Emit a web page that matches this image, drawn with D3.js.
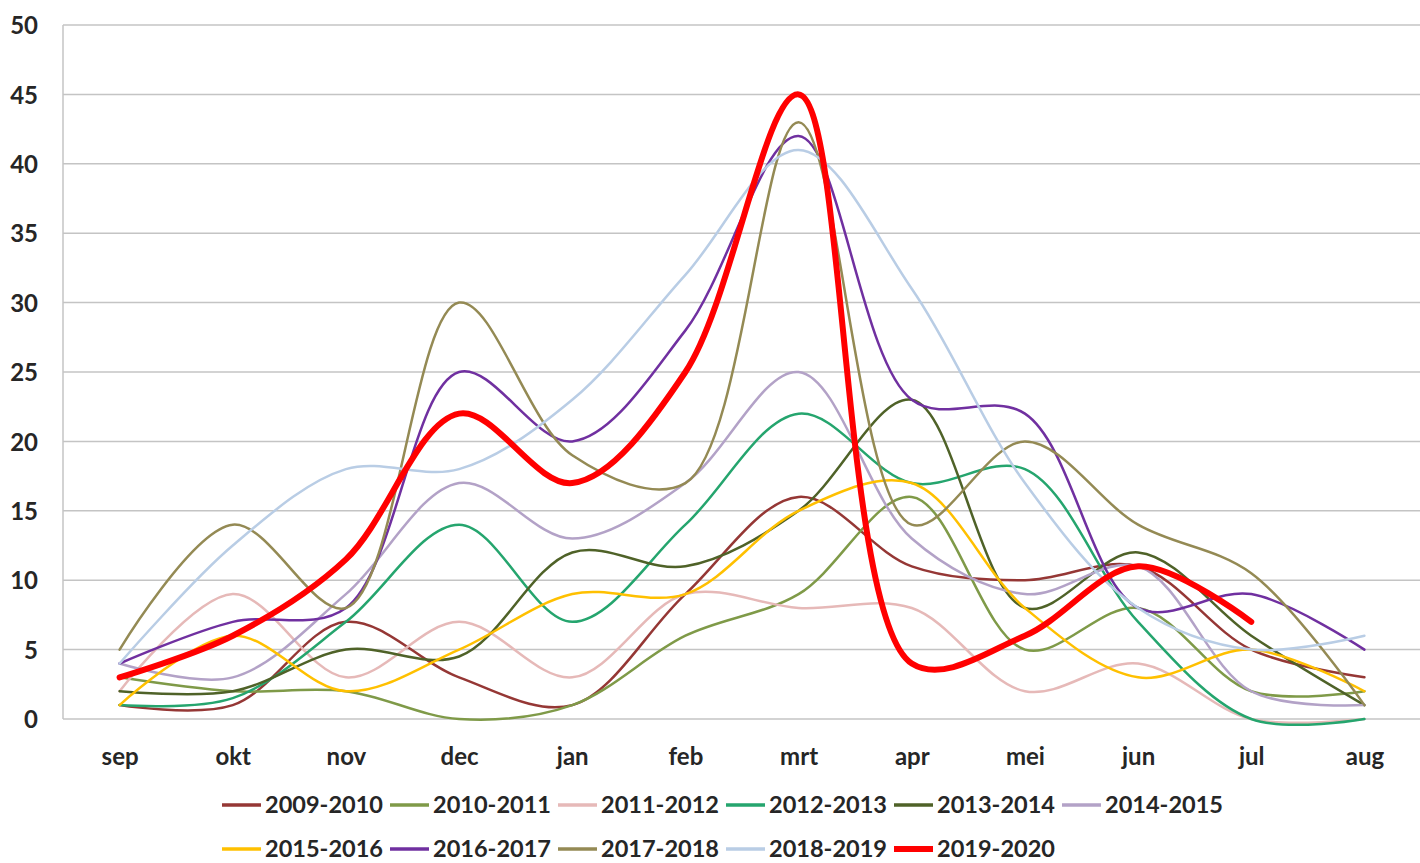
<!DOCTYPE html>
<html>
<head>
<meta charset="utf-8">
<script src="https://cdn.jsdelivr.net/npm/d3@7"></script>
<style>
  html, body { margin: 0; padding: 0; background: #fff; }
  svg { display: block; }
  text { font-family: Lato, "Open Sans", "DejaVu Sans", sans-serif; font-weight: 700; fill: #262626; }
</style>
</head>
<body>
<svg id="chart" width="1420" height="863"></svg>
<script>
// ---- data ----
const months = ["sep","okt","nov","dec","jan","feb","mrt","apr","mei","jun","jul","aug"];
const yTicks = [0, 5, 10, 15, 20, 25, 30, 35, 40, 45, 50];
const seriesNames = ["2009-2010","2010-2011","2011-2012","2012-2013","2013-2014","2014-2015",
                     "2015-2016","2016-2017","2017-2018","2018-2019","2019-2020"];
const s2009 = [1, 1, 7, 3, 1, 9, 16, 11, 10, 11, 5, 3];
const s2010 = [3, 2, 2, 0, 1, 6, 9, 16, 5, 8, 2, 2];
const s2011 = [2, 9, 3, 7, 3, 9, 8, 8, 2, 4, 0, 0];
const s2012 = [1, 1.5, 7, 14, 7, 14, 22, 17, 18, 7, 0, 0];
const s2013 = [2, 2, 5, 4.5, 12, 11, 15, 23, 8, 12, 6, 1];
const s2014 = [4, 3, 9, 17, 13, 17, 25, 13, 9, 11, 2, 1];
const s2015 = [1, 6, 2, 5, 9, 9, 15, 17, 8, 3, 5, 2];
const s2016 = [4, 7, 8, 25, 20, 28, 42, 23, 22, 8, 9, 5];
const s2017 = [5, 14, 8, 30, 19, 17, 43, 14, 20, 14, 10.5, 1];
const s2018 = [4, 12.5, 18, 18, 23, 32, 41, 31, 17, 8, 5, 6];
const s2019 = [3, 6, 11.5, 22, 17, 25, 45, 4, 6, 11, 7, null];
const seriesValues = [s2009, s2010, s2011, s2012, s2013, s2014, s2015, s2016, s2017, s2018, s2019];
const colors = ["#953735","#7F9A48","#E6B9B8","#25A56E","#4F6228","#B3A2C7",
                "#FFC000","#7030A0","#948A54","#B9CDE5","#FF0000"];
const widths = [2.5,2.5,2.5,2.5,2.5,2.5,2.5,2.5,2.5,2.5,6];

// ---- layout ----
const svg = d3.select("#chart");
const plot = {left: 63, right: 1421, top: 25, bottom: 719};

const x = d3.scalePoint().domain(months).range([plot.left, plot.right]).padding(0.5);
const y = d3.scaleLinear().domain([0, 50]).range([plot.bottom, plot.top]);

// gridlines
svg.append("g").selectAll("line").data(yTicks).join("line")
  .attr("x1", plot.left).attr("x2", 1420)
  .attr("y1", d => y(d)).attr("y2", d => y(d))
  .attr("stroke", "#C4C4C4").attr("stroke-width", 1.5);
// left axis line
svg.append("line")
  .attr("x1", plot.left).attr("x2", plot.left)
  .attr("y1", y(50)).attr("y2", y(0))
  .attr("stroke", "#C4C4C4").attr("stroke-width", 1.5);

// y axis
const yAxis = d3.axisLeft(y).tickValues(yTicks).tickSize(0).tickPadding(0);
const gy = svg.append("g").attr("transform", "translate(38,0)").call(yAxis);
gy.select(".domain").remove();
gy.selectAll("text").attr("font-size", 24).attr("dy", "0.36em")
  .style("font-family", "Lato, 'Open Sans', sans-serif").style("font-weight", 700).attr("fill", "#262626");

// x axis
const xAxis = d3.axisBottom(x).tickSize(0).tickPadding(0);
const gx = svg.append("g").attr("transform", "translate(0,748)").call(xAxis);
gx.select(".domain").remove();
gx.selectAll("text").attr("font-size", 24).attr("dy", "0.71em")
  .style("font-family", "Lato, 'Open Sans', sans-serif").style("font-weight", 700).attr("fill", "#262626");

// lines
const line = d3.line()
  .defined(d => d.v != null)
  .x(d => x(d.m))
  .y(d => y(d.v))
  .curve(d3.curveCatmullRom.alpha(0.5));

const series = seriesNames.map((n, i) => ({
  name: n, color: colors[i], width: widths[i],
  pts: months.map((m, j) => ({m, v: seriesValues[i][j]}))
}));

svg.append("g").attr("fill", "none").selectAll("path").data(series).join("path")
  .attr("d", d => line(d.pts))
  .attr("stroke", d => d.color)
  .attr("stroke-width", d => d.width)
  .attr("stroke-linecap", "round")
  .attr("stroke-linejoin", "round");

// legend
const perRow = 6, pitch = 168, startX = 265, rowY = [805, 849];
const lg = svg.append("g").selectAll("g").data(series).join("g")
  .attr("transform", (d, i) => `translate(${startX + pitch * (i % perRow)},${rowY[Math.floor(i / perRow)]})`);
lg.append("line")
  .attr("x1", -43).attr("x2", -4).attr("y1", 0).attr("y2", 0)
  .attr("stroke", d => d.color)
  .attr("stroke-width", d => d.width === 6 ? 6 : 3.5);
lg.append("text")
  .attr("x", 0).attr("y", 0).attr("dy", "0.35em")
  .attr("font-size", 23)
  .attr("textLength", 118).attr("lengthAdjust", "spacingAndGlyphs")
  .text(d => d.name);
</script>
</body>
</html>
